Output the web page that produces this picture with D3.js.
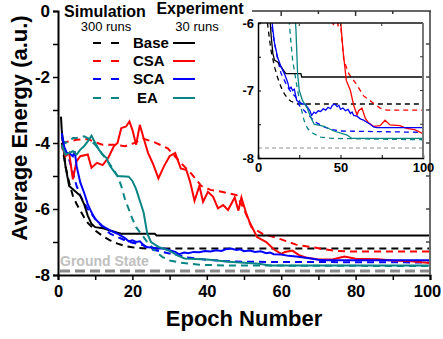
<!DOCTYPE html>
<html><head><meta charset="utf-8">
<script src="https://cdn.jsdelivr.net/npm/d3@7"></script>
<style>html,body{margin:0;padding:0;background:#fff}svg{display:block;font-family:"Liberation Sans",Arial,sans-serif}</style>
</head><body>
<script>
// ---------- DATA ----------
const xTicks = [0, 20, 40, 60, 80, 100];
const yTicks = [0, -2, -4, -6, -8];
const insetXTicks = [0, 50, 100];
const insetYTicks = [-6, -7, -8];
const groundState = -7.88;
const categories = ["Base", "CSA", "SCA", "EA"];
const colors = ["#000000", "#ff0000", "#0000ff", "#0a8585"];

const simBaseEpoch = [1, 2, 3, 4, 5, 6, 7, 8, 10, 12, 14, 16, 18, 20, 24, 100];
const simBaseValue = [-4.0, -4.7, -5.2, -5.6, -5.85, -6.05, -6.25, -6.42, -6.65, -6.82, -6.95, -7.05, -7.12, -7.16, -7.2, -7.2];

const expBaseEpoch = [0.8, 1, 2, 3, 4, 5, 6, 7, 8, 9, 10, 12, 14, 16, 17, 26, 26.5, 100];
const expBaseValue = [-3.2, -3.6, -4.7, -5.3, -5.4, -5.5, -5.6, -5.85, -6.2, -6.45, -6.55, -6.58, -6.65, -6.72, -6.75, -6.75, -6.8, -6.8];

const simCsaEpoch = [1, 3, 5, 8, 10, 12, 15, 18, 20.5, 23, 26, 29.5, 33, 36, 38.5, 41, 44, 48, 50, 52, 55, 60, 64, 69, 74, 78, 100];
const simCsaValue = [-4.0, -3.95, -3.9, -3.88, -3.98, -4.05, -4.05, -4.1, -4.0, -3.87, -3.98, -4.16, -4.6, -4.95, -5.3, -5.42, -5.48, -5.58, -6.0, -6.55, -6.75, -6.92, -7.08, -7.17, -7.26, -7.29, -7.29];

const expCsaEpoch = [1, 2, 3, 4, 5, 6, 8, 9, 10.5, 12, 13.5, 15, 16, 17, 18.3, 19.2, 20, 21, 22, 23, 24.2, 25.5, 27, 28.5, 30, 31.5, 33, 34.5, 35.5, 36.7, 38, 39, 40.3, 41.7, 43, 44.4, 45.7, 47.5, 48.5, 49.3, 50.5, 51.5, 53.5, 56, 58, 60, 61, 63, 65, 67, 70, 74, 77, 80, 86, 90, 95, 100];
const expCsaValue = [-4.05, -4.4, -4.3, -5.1, -4.55, -4.4, -4.35, -4.75, -4.6, -4.67, -4.45, -4.1, -4.0, -3.55, -3.5, -3.35, -3.6, -4.05, -3.45, -3.85, -4.3, -4.62, -5.07, -4.7, -4.4, -4.3, -4.77, -4.82, -5.17, -5.75, -5.3, -5.78, -5.48, -5.63, -5.98, -5.88, -6.03, -5.65, -6.05, -5.65, -6.1, -6.4, -6.85, -7.0, -7.22, -7.36, -7.3, -7.26, -7.41, -7.48, -7.53, -7.52, -7.44, -7.51, -7.52, -7.56, -7.58, -7.64];

const simScaEpoch = [1, 2, 3, 4, 5, 6, 7, 8, 10, 12, 14, 16, 18, 20, 23, 25, 30, 35, 40, 45, 50, 100];
const simScaValue = [-3.8, -4.2, -4.5, -4.9, -5.3, -5.6, -5.8, -6.0, -6.3, -6.55, -6.75, -6.85, -6.95, -7.02, -7.1, -7.22, -7.35, -7.47, -7.54, -7.58, -7.6, -7.62];

const expScaEpoch = [1, 2, 3, 4, 4.5, 5, 6, 7, 8, 9, 10, 12, 14, 16, 18, 19, 20, 21, 22, 23.5, 25, 27, 28.5, 30, 31.5, 32.5, 34, 35, 36.5, 38, 39.5, 41, 42.5, 44, 45, 46.5, 48, 49, 50, 51.5, 53, 54.5, 56, 57, 58, 60, 62, 64, 66, 68, 70, 72, 100];
const expScaValue = [-3.7, -4.3, -4.3, -4.4, -4.25, -4.7, -5.2, -5.5, -5.85, -6.1, -6.3, -6.52, -6.65, -6.75, -6.88, -6.98, -6.95, -7.0, -6.98, -7.15, -7.17, -7.2, -7.2, -7.25, -7.3, -7.37, -7.32, -7.34, -7.3, -7.31, -7.27, -7.29, -7.25, -7.27, -7.22, -7.2, -7.24, -7.22, -7.28, -7.26, -7.3, -7.28, -7.34, -7.32, -7.37, -7.38, -7.42, -7.44, -7.47, -7.5, -7.54, -7.55, -7.55];

const simEaEpoch = [1, 2, 3, 4, 5, 6, 7, 8, 10, 12, 14, 16, 17, 18, 19, 20, 21, 22, 24, 26, 28, 30, 33, 38, 45, 100];
const simEaValue = [-3.9, -4.0, -3.95, -3.85, -3.85, -3.82, -3.8, -3.85, -4.05, -4.35, -4.65, -5.0, -5.3, -5.7, -6.0, -6.3, -6.55, -6.7, -7.0, -7.25, -7.45, -7.56, -7.63, -7.69, -7.71, -7.73];

const expEaEpoch = [1, 2, 3, 4, 5, 6, 7, 8, 9, 10, 11, 12, 13, 14, 15, 16, 19, 20, 21, 22, 23, 24, 25, 27, 30, 32, 34, 40, 46, 54, 57, 100];
const expEaValue = [-4.05, -4.35, -4.3, -4.25, -4.35, -4.2, -4.1, -3.95, -3.78, -4.0, -4.2, -4.35, -4.45, -4.7, -4.85, -5.0, -5.02, -5.15, -5.4, -5.75, -6.1, -6.75, -7.0, -7.15, -7.27, -7.4, -7.5, -7.53, -7.6, -7.66, -7.71, -7.71];

// ---------- BUILD ----------
const W = 443, H = 339;
const svg = d3.select("body").append("svg").attr("width", W).attr("height", H);

const zip = (e, v) => e.map((d, i) => ({ e: d, v: v[i] }));
const sim = [zip(simBaseEpoch, simBaseValue), zip(simCsaEpoch, simCsaValue), zip(simScaEpoch, simScaValue), zip(simEaEpoch, simEaValue)];
const exp = [zip(expBaseEpoch, expBaseValue), zip(expCsaEpoch, expCsaValue), zip(expScaEpoch, expScaValue), zip(expEaEpoch, expEaValue)];

// main scales
const x = d3.scaleLinear().domain([0, 100]).range([58, 430]);
const y = d3.scaleLinear().domain([-8, 0]).range([275, 11]);

const defs = svg.append("defs");
defs.append("clipPath").attr("id", "mainClip").append("rect")
  .attr("x", x(0)).attr("y", y(0)).attr("width", x(100) - x(0)).attr("height", y(-8) - y(0));

const main = svg.append("g");
const lineMain = d3.line().x(d => x(d.e)).y(d => y(d.v));

// ground state
main.append("line").attr("x1", x(0) + 2).attr("x2", x(100))
  .attr("y1", y(groundState)).attr("y2", y(groundState))
  .attr("stroke", "#8a8a8a").attr("stroke-width", 3).attr("stroke-dasharray", "10,5");
main.append("text").attr("x", x(0) + 2).attr("y", y(groundState) - 5)
  .attr("font-size", 14).attr("font-weight", "bold").attr("fill", "#c0c0c0").text("Ground State");

const plotG = main.append("g").attr("clip-path", "url(#mainClip)");
sim.forEach((s, i) => plotG.append("path").datum(s).attr("d", lineMain)
  .attr("fill", "none").attr("stroke", colors[i]).attr("stroke-width", 2).attr("stroke-dasharray", "7,5"));
exp.forEach((s, i) => plotG.append("path").datum(s).attr("d", lineMain)
  .attr("fill", "none").attr("stroke", colors[i]).attr("stroke-width", 2));

// axes main
const xAxis = svg.append("g").attr("transform", `translate(0,${y(-8)})`)
  .call(d3.axisBottom(x).tickValues(d3.range(0, 101, 10)).tickSize(5).tickFormat(d => xTicks.includes(d) ? d : ""));
xAxis.select(".domain").attr("stroke-width", 2);
xAxis.selectAll(".tick line").attr("stroke-width", 1.5);
xAxis.selectAll("text").attr("font-size", 16.5).attr("font-weight", "bold").attr("font-family", "Liberation Sans, Arial").attr("dy", "0.85em")
  .attr("dx", d => d === 100 ? -3 : 0);

const yAxis = svg.append("g").attr("transform", `translate(${x(0)},0)`)
  .call(d3.axisLeft(y).tickValues(d3.range(-8, 0.1, 1)).tickSize(5).tickFormat(d => yTicks.includes(d) ? d : ""));
yAxis.select(".domain").attr("stroke-width", 2);
yAxis.selectAll(".tick line").attr("stroke-width", 1.5);
yAxis.selectAll("text").attr("font-size", 17).attr("font-weight", "bold").attr("font-family", "Liberation Sans, Arial");

// right + top frame
svg.append("line").attr("x1", x(100)).attr("x2", x(100)).attr("y1", y(0)).attr("y2", y(-8))
  .attr("stroke", "#6a6a6a").attr("stroke-width", 2);
d3.range(-7, 0, 1).forEach(v => svg.append("line").attr("x1", x(100) - 4).attr("x2", x(100))
  .attr("y1", y(v)).attr("y2", y(v)).attr("stroke", "#444").attr("stroke-width", 1.5));
svg.append("line").attr("x1", 252).attr("x2", x(100) + 1).attr("y1", y(0)).attr("y2", y(0))
  .attr("stroke", "#333").attr("stroke-width", 1.5);
[60, 70, 80, 90].forEach(e => svg.append("line").attr("x1", x(e)).attr("x2", x(e))
  .attr("y1", y(0)).attr("y2", y(0) + (e % 20 === 0 ? 5 : 3)).attr("stroke", "#333").attr("stroke-width", 1.5));

// axis titles
svg.append("text").attr("transform", `translate(27,${128}) rotate(-90)`).attr("text-anchor", "middle")
  .attr("font-size", 22).attr("font-weight", "bold").text("Average Energy (a.u.)");
svg.append("text").attr("x", 244).attr("y", 326).attr("text-anchor", "middle")
  .attr("font-size", 22).attr("font-weight", "bold").text("Epoch Number");

// legend
svg.append("text").attr("x", 105).attr("y", 17).attr("text-anchor", "middle")
  .attr("font-size", 16).attr("font-weight", "bold").text("Simulation");
svg.append("text").attr("x", 200).attr("y", 14).attr("text-anchor", "middle")
  .attr("font-size", 16).attr("font-weight", "bold").text("Experiment");
svg.append("text").attr("x", 106).attr("y", 31).attr("text-anchor", "middle")
  .attr("font-size", 13).text("300 runs");
svg.append("text").attr("x", 197).attr("y", 31).attr("text-anchor", "middle")
  .attr("font-size", 13).text("30 runs");
const legRows = [43, 61, 79, 98];
categories.forEach((c, i) => {
  const ly = legRows[i];
  svg.append("line").attr("x1", 93).attr("x2", 119).attr("y1", ly).attr("y2", ly)
    .attr("stroke", colors[i]).attr("stroke-width", 2).attr("stroke-dasharray", "8,10");
  svg.append("line").attr("x1", 173).attr("x2", 195).attr("y1", ly).attr("y2", ly)
    .attr("stroke", colors[i]).attr("stroke-width", 2);
  svg.append("text").attr("x", c === "EA" ? 137 : 133).attr("y", ly + 5)
    .attr("font-size", 15).attr("font-weight", "bold").text(c);
});

// ---------- INSET ----------
const ix = d3.scaleLinear().domain([0, 100]).range([258, 423]);
const iy = d3.scaleLinear().domain([-8, -6]).range([158, 23]);
defs.append("clipPath").attr("id", "insetClip").append("rect")
  .attr("x", ix(0)).attr("y", iy(-6)).attr("width", ix(100) - ix(0)).attr("height", iy(-8) - iy(-6));
const inset = svg.append("g");
inset.append("rect").attr("x", ix(0)).attr("y", iy(-6)).attr("width", ix(100) - ix(0)).attr("height", iy(-8) - iy(-6)).attr("fill", "#fff");
const lineIn = d3.line().x(d => ix(d.e)).y(d => iy(d.v));
inset.append("line").attr("x1", ix(0)).attr("x2", ix(100)).attr("y1", iy(-7.85)).attr("y2", iy(-7.85))
  .attr("stroke", "#b5b5b5").attr("stroke-width", 1.5).attr("stroke-dasharray", "4,3");
const inG = inset.append("g").attr("clip-path", "url(#insetClip)");
sim.forEach((s, i) => inG.append("path").datum(s).attr("d", lineIn)
  .attr("fill", "none").attr("stroke", colors[i]).attr("stroke-width", 1.3).attr("stroke-dasharray", "5,4"));
exp.forEach((s, i) => inG.append("path").datum(s).attr("d", lineIn)
  .attr("fill", "none").attr("stroke", colors[i]).attr("stroke-width", 1.3));

const ixAxis = inset.append("g").attr("transform", `translate(0,${iy(-8)})`)
  .call(d3.axisBottom(ix).tickValues([0, 25, 50, 75, 100]).tickSize(-3).tickPadding(5).tickFormat(d => insetXTicks.includes(d) ? d : ""));
ixAxis.select(".domain").attr("stroke-width", 1.5);
ixAxis.selectAll("text").attr("font-size", 13).attr("font-weight", "bold").attr("font-family", "Liberation Sans, Arial");
const iyAxis = inset.append("g").attr("transform", `translate(${ix(0)},0)`)
  .call(d3.axisLeft(iy).tickValues([-8, -7.5, -7, -6.5, -6]).tickSize(-3).tickPadding(4).tickFormat(d => insetYTicks.includes(d) ? d : ""));
iyAxis.select(".domain").attr("stroke-width", 1.5);
iyAxis.selectAll("text").attr("font-size", 13).attr("font-weight", "bold").attr("font-family", "Liberation Sans, Arial");
inset.append("line").attr("x1", ix(0)).attr("x2", ix(100)).attr("y1", iy(-6)).attr("y2", iy(-6)).attr("stroke", "#111").attr("stroke-width", 1.5);
inset.append("line").attr("x1", ix(100)).attr("x2", ix(100)).attr("y1", iy(-6)).attr("y2", iy(-8)).attr("stroke", "#777").attr("stroke-width", 2);
[-6.5, -7, -7.5].forEach(v => inset.append("line").attr("x1", ix(100) - 3).attr("x2", ix(100)).attr("y1", iy(v)).attr("y2", iy(v)).attr("stroke", "#333"));
[25, 50, 75].forEach(e => inset.append("line").attr("x1", ix(e)).attr("x2", ix(e)).attr("y1", iy(-6)).attr("y2", iy(-6) + 3).attr("stroke", "#333"));
</script>
</body></html>
